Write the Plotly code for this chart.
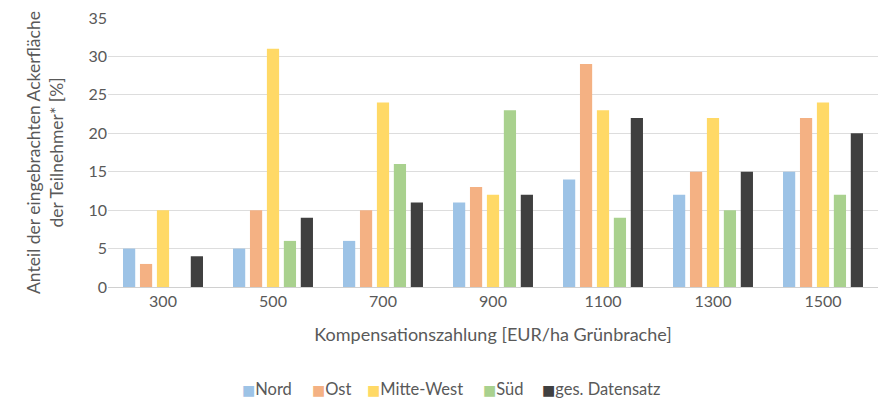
import plotly.graph_objects as go

categories = ["300", "500", "700", "900", "1100", "1300", "1500"]
nord = [5, 5, 6, 11, 14, 12, 15]
ost = [3, 10, 10, 13, 29, 15, 22]
mitte_west = [10, 31, 24, 12, 23, 22, 24]
sued = [0, 6, 16, 23, 9, 10, 12]
gesamt = [4, 9, 11, 12, 22, 15, 20]
y_ticks = [0, 5, 10, 15, 20, 25, 30, 35]

series = [
    ("Nord", nord, "#9DC3E6"),
    ("Ost", ost, "#F4B183"),
    ("Mitte-West", mitte_west, "#FFD966"),
    ("Süd", sued, "#A9D18E"),
    ("ges. Datensatz", gesamt, "#404040"),
]

font_family = "Lato, 'Open Sans', sans-serif"
grey = "#595959"

# plot area in pixels (used to place the hand-built legend row)
L, R, T, B = 108, 2, 18, 115
W, H = 880, 402
plot_w = W - L - R
plot_h = H - T - B

fig = go.Figure()
for name, values, color in series:
    fig.add_trace(go.Bar(
        x=categories, y=values, name=name, showlegend=False,
        marker=dict(color=color, line=dict(width=0)),
    ))

# compact legend row: small coloured square followed by the series name
legend_left_px = [240, 310, 365, 481, 540]
for (name, _, color), px in zip(series, legend_left_px):
    fig.add_annotation(
        xref="paper", yref="paper",
        x=(px - L) / plot_w, y=-(389 - (H - B)) / plot_h,
        xanchor="left", yanchor="middle", showarrow=False,
        text=(f'<span style="color:{color};font-size:14px;'
              f'font-family:DejaVu Sans">■</span>{name}'),
        font=dict(size=16.5, color=grey, family=font_family),
    )

fig.update_layout(
    width=W, height=H,
    margin=dict(l=L, r=R, t=T, b=B),
    paper_bgcolor="white", plot_bgcolor="white",
    barmode="group", bargap=0.23, bargroupgap=0.28,
    font=dict(family=font_family, color=grey, size=16),
)
fig.update_xaxes(
    type="category",
    showline=True, linecolor="#D0D0D0", linewidth=1,
    ticks="", tickfont=dict(size=16, color=grey),
    title=dict(text="Kompensationszahlung [EUR/ha Grünbrache]",
               font=dict(size=18, color=grey), standoff=19),
)
fig.update_yaxes(
    range=[0, 35], tickvals=y_ticks,
    showgrid=True, gridcolor="#DDDDDD", gridwidth=1,
    zeroline=False, showline=False, ticks="",
    tickfont=dict(size=16, color=grey),
    title=dict(text="Anteil der eingebrachten Ackerfläche<br>der Teilnehmer* [%]",
               font=dict(size=17.5, color=grey), standoff=20),
)

fig.write_html("out.html")
